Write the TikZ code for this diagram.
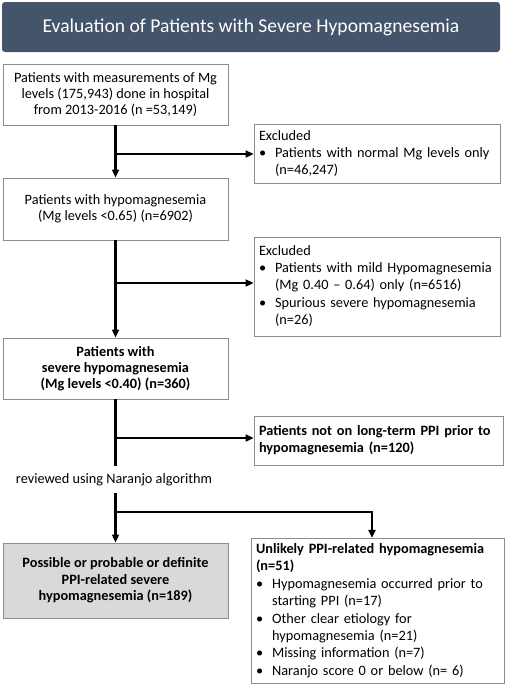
\documentclass[tikz,border=0pt]{standalone}
\usepackage{fontspec}
\setmainfont{Carlito}
\usepackage{tikz}
\usetikzlibrary{arrows.meta,calc}
\definecolor{titleblue}{HTML}{44546A}
\definecolor{boxgray}{HTML}{8C8C8C}
\definecolor{resultfill}{HTML}{D9D9D9}
\newcommand{\bul}{\textbullet}

\begin{document}
\begin{tikzpicture}[
  x=1pt,
  y=-1pt,
  font=\fontsize{14.3}{16}\selectfont,
  titlebar/.style={fill=titleblue, rounded corners=3pt, text=white,
    minimum width=498pt, minimum height=50pt,
    font=\fontsize{19.6}{23}\selectfont},
  stage/.style={draw=boxgray, fill=white, align=center, minimum width=225pt,
    inner sep=3pt, line width=0.9pt},
  sidebox/.style={draw=boxgray, fill=white, align=left, inner xsep=5pt,
    inner ysep=3pt, line width=0.9pt, font=\fontsize{14.3}{17.4}\selectfont},
  flow/.style={-{Triangle[length=8pt,width=7pt]}, draw=black, line width=2.4pt},
  trunk/.style={draw=black, line width=2.4pt}
]
\useasboundingbox (0,0) rectangle (505,691);

% Title
\node[titlebar] (title) at (251,27)
      {Evaluation of Patients with Severe Hypomagnesemia};

% Main stages
\node[stage, minimum height=61pt] (measured) at (115.5,94.5)
      {Patients with measurements of Mg\\levels (175,943) done in hospital\\from 2013-2016 (n =53,149)};
\node[stage, minimum height=62pt] (hypo) at (115.5,209)
      {Patients with hypomagnesemia\\(Mg levels <0.65) (n=6902)};
\node[stage, minimum height=61pt, font=\fontsize{14.3}{16}\selectfont\bfseries]
      (severe) at (115.5,368.5)
      {Patients with\\severe hypomagnesemia\\(Mg levels <0.40) (n=360)};
\node[inner sep=0pt, minimum height=27pt] (naranjo) at (114,479.5)
      {reviewed using Naranjo algorithm};
\node[stage, fill=resultfill, minimum height=75pt,
      font=\fontsize{14.3}{16.5}\selectfont\bfseries] (related) at (115.5,580.5)
      {Possible or probable or definite\\PPI-related severe\\hypomagnesemia (n=189)};

% Side boxes
\node[sidebox, text width=236pt, minimum height=58pt] (excl1) at (377,154)
      {\begin{tabular}{@{}l@{\hspace{9pt}}l@{}}
       \multicolumn{2}{@{}l}{Excluded}\\
       \bul & Patients with normal Mg levels only\\
            & (n=46,247)
       \end{tabular}};
\node[sidebox, text width=236pt, minimum height=99pt] (excl2) at (377,286.5)
      {\begin{tabular}{@{}l@{\hspace{9pt}}l@{}}
       \multicolumn{2}{@{}l}{Excluded}\\
       \bul & Patients with mild Hypomagnesemia\\
            & (Mg 0.40 -- 0.64) only (n=6516)\\
       \bul & Spurious severe hypomagnesemia\\
            & (n=26)
       \end{tabular}};
\node[sidebox, text width=239pt, minimum height=49pt,
      font=\fontsize{14.3}{17}\selectfont\bfseries] (noppi) at (378.5,440.5)
      {Patients not on long-term PPI prior to\\hypomagnesemia (n=120)};
\node[sidebox, text width=243pt, minimum height=138pt, inner xsep=5pt]
      (unlikely) at (377.5,611)
      {\begin{tabular}{@{}l@{\hspace{9pt}}l@{}}
       \multicolumn{2}{@{}l}{\bfseries Unlikely PPI-related hypomagnesemia}\\
       \multicolumn{2}{@{}l}{\bfseries (n=51)}\\
       \bul & Hypomagnesemia occurred prior to\\
            & starting PPI (n=17)\\
       \bul & Other clear etiology for\\
            & hypomagnesemia (n=21)\\
       \bul & Missing information (n=7)\\
       \bul & Naranjo score 0 or below (n= 6)
       \end{tabular}};

% Main flow
\draw[flow] (measured.south) -- (hypo.north);
\draw[flow] (hypo.south) -- (severe.north);
\draw[trunk] (severe.south) -- (severe.south |- naranjo.north);
\draw[flow] (related.north |- naranjo.south) -- (related.north);

% Exclusions branch to the right
\draw[flow] (measured.south |- excl1.west) -- (excl1.west);
\coordinate (cut2) at (115.5,283);
\draw[flow] (cut2) -- (cut2 -| excl2.west);
\coordinate (cut3) at (115.5,438);
\draw[flow] (cut3) -- (cut3 -| noppi.west);

% Naranjo split
\coordinate (split) at (115.5,512);
\coordinate (tee) at (372,512);
\draw[flow] (split) -- (tee) -- (tee |- unlikely.north);
\end{tikzpicture}
\end{document}
